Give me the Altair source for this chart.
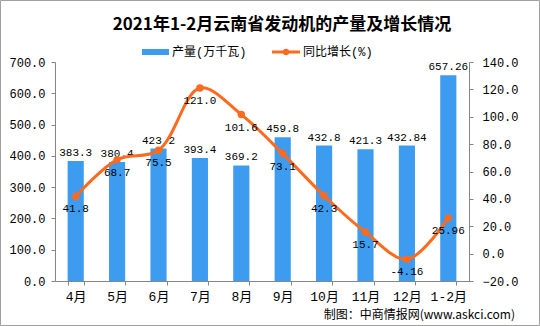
import altair as alt
import pandas as pd

months = ["4月", "5月", "6月", "7月", "8月", "9月", "10月", "11月", "12月", "1-2月"]
production = [383.3, 380.4, 423.2, 393.4, 369.2, 459.8, 432.8, 421.3, 432.84, 657.26]
growth = [41.8, 68.7, 75.5, 121.0, 101.6, 73.1, 42.3, 15.7, -4.16, 25.96]
title_text = "2021年1-2月云南省发动机的产量及增长情况"
legend_labels = ["产量(万千瓦)", "同比增长(%)"]
source_text = "制图：中商情报网(www.askci.com)"

df = pd.DataFrame({
    "month": months,
    "production": production,
    "growth": growth,
    "plabel": [str(v) for v in production],
    "glabel": [str(v) for v in growth],
})

BAR = "#3D9BF0"
LINE = "#FF6A1F"
NUM_FONT = "Liberation Mono, Noto Sans CJK SC"
CJK = "Noto Sans CJK SC"

base = alt.Chart(df).encode(
    x=alt.X("month:N", sort=months, title=None,
            scale=alt.Scale(paddingInner=0.61, paddingOuter=0.305),
            axis=alt.Axis(labelAngle=0, tickBand="extent", tickSize=4,
                          labelPadding=5, labelFontSize=13, labelFont=NUM_FONT))
)

yl = alt.Y("production:Q", title=None,
           scale=alt.Scale(domain=[0, 700], nice=False, zero=False),
           axis=alt.Axis(orient="left", values=list(range(0, 701, 100)), format=".1f",
                         labelOverlap=False, labelFlush=False, tickCount=8,
                         tickSize=4, labelPadding=6, labelFontSize=12, labelFont=NUM_FONT))
yr = alt.Y("growth:Q", title=None,
           scale=alt.Scale(domain=[-20, 140], nice=False, zero=False),
           axis=alt.Axis(orient="right", values=list(range(-20, 141, 20)), format=".1f",
                         labelOverlap=False, labelFlush=False, tickCount=9,
                         tickSize=4, labelPadding=9, labelFontSize=12, labelFont=NUM_FONT))

bars = base.mark_bar(color=BAR).encode(y=yl)
bar_text = base.mark_text(baseline="bottom", dy=-3, fontSize=11, font=NUM_FONT,
                          color="#000000").encode(y=yl, text="plabel:N")
left = alt.layer(bars, bar_text)

line = base.mark_line(color=LINE, strokeWidth=3, interpolate="catmull-rom").encode(y=yr)
pts = base.mark_point(filled=True, color=LINE, size=55, opacity=1).encode(y=yr)
line_text = base.mark_text(baseline="middle", dy=13, fontSize=11, font=NUM_FONT,
                           color="#000000").encode(y=yr, text="glabel:N")
right = alt.layer(line, pts, line_text)

one = pd.DataFrame({"t": [title_text]})
title = alt.Chart(one).mark_text(fontSize=17, fontWeight="bold", font=CJK,
                                 baseline="middle", align="center", color="#000000").encode(
    x=alt.value(227), y=alt.value(-37), text="t:N")

leg_bar = alt.Chart(pd.DataFrame({"a": [0]})).mark_rect(color=BAR).encode(
    x=alt.value(87), x2=alt.value(114), y=alt.value(-13), y2=alt.value(-7))
leg_bar_t = alt.Chart(pd.DataFrame({"t": [legend_labels[0]]})).mark_text(
    fontSize=12, font=NUM_FONT, align="left", baseline="middle").encode(
    x=alt.value(117), y=alt.value(-10), text="t:N")
leg_line = alt.Chart(pd.DataFrame({"a": [0]})).mark_rule(color=LINE, strokeWidth=3).encode(
    x=alt.value(217), x2=alt.value(245), y=alt.value(-10))
leg_pt = alt.Chart(pd.DataFrame({"a": [0]})).mark_point(filled=True, color=LINE, size=40, opacity=1).encode(
    x=alt.value(231), y=alt.value(-10))
leg_line_t = alt.Chart(pd.DataFrame({"t": [legend_labels[1]]})).mark_text(
    fontSize=12, font=NUM_FONT, align="left", baseline="middle").encode(
    x=alt.value(248), y=alt.value(-10), text="t:N")

src = alt.Chart(pd.DataFrame({"t": [source_text]})).mark_text(
    fontSize=12, font=CJK, align="right", baseline="middle").encode(
    x=alt.value(460), y=alt.value(253), text="t:N")

frame = alt.Chart(pd.DataFrame({"a": [0]})).mark_rect(
    fill=None, stroke="#A0A0A0", strokeWidth=1).encode(
    x=alt.value(-54.5), x2=alt.value(484.5), y=alt.value(-61.5), y2=alt.value(263.5))

chart = alt.layer(left, right, title, leg_bar, leg_bar_t, leg_line, leg_pt, leg_line_t, src, frame).resolve_scale(
    y="independent"
).properties(
    width=414, height=219,
    autosize=alt.AutoSizeParams(type="none"),
    padding={"left": 55, "top": 62, "right": 71, "bottom": 45},
    background="#FFFFFF",
).configure_view(stroke=None).configure_axis(
    grid=False, domainColor="#868686", tickColor="#868686", labelColor="#000000"
)

chart.save("out.html", embed_options={"renderer": "svg", "actions": False})
